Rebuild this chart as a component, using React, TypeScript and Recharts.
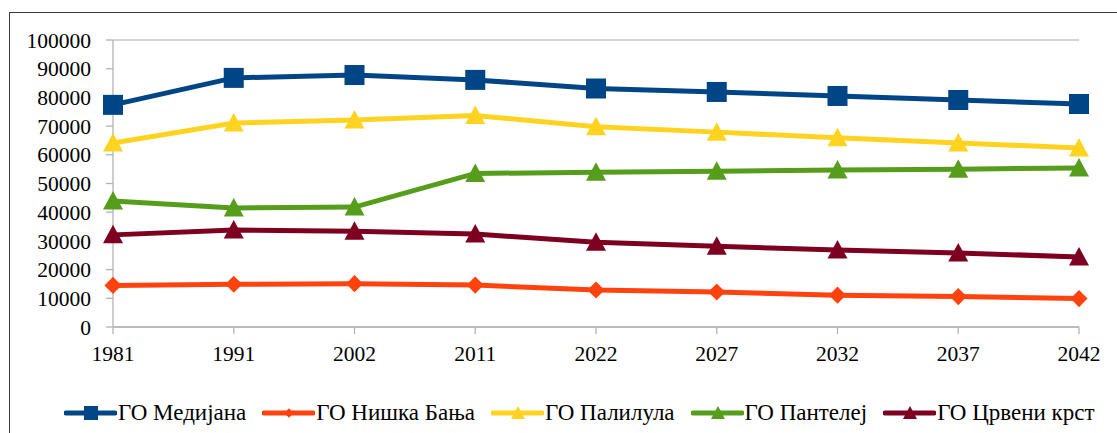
import React from "react";
import { LineChart, Line, XAxis, YAxis, CartesianGrid, Legend } from "recharts";

const years = ["1981", "1991", "2002", "2011", "2022", "2027", "2032", "2037", "2042"];
const medijana = [77400, 86800, 87800, 86100, 83100, 81900, 80500, 79100, 77700];
const niskaBanja = [14500, 14900, 15100, 14600, 12900, 12200, 11100, 10600, 9900];
const palilula = [64100, 71100, 72100, 73700, 69800, 67900, 65900, 64100, 62400];
const pantelej = [43900, 41500, 41800, 53500, 53900, 54300, 54700, 55000, 55400];
const crveniKrst = [32100, 33800, 33400, 32400, 29500, 28100, 26800, 25800, 24400];
const yTicks = [0, 10000, 20000, 30000, 40000, 50000, 60000, 70000, 80000, 90000, 100000];

const series = [
  { key: "med", name: "ГО Медијана", color: "#004586", shape: "square", values: medijana },
  { key: "nb", name: "ГО Нишка Бања", color: "#ff420e", shape: "diamond", values: niskaBanja },
  { key: "pal", name: "ГО Палилула", color: "#ffd320", shape: "triangle", values: palilula },
  { key: "pan", name: "ГО Пантелеј", color: "#579d1c", shape: "triangle", values: pantelej },
  { key: "ck", name: "ГО Црвени крст", color: "#7e0021", shape: "triangle", values: crveniKrst },
];

const data = years.map((y, i) => {
  const row: any = { year: y };
  series.forEach((s) => (row[s.key] = s.values[i]));
  return row;
});

const FONT = "Liberation Serif";
const GRID = "#c6c6c6";
const AXIS = "#b3b3b3";

function marker(shape: string, color: string, cx: number, cy: number, r: number, key?: any) {
  if (shape === "square") {
    return <rect key={key} x={cx - r} y={cy - r} width={r * 2} height={r * 2} fill={color} />;
  }
  if (shape === "diamond") {
    const d = r * 0.95;
    return (
      <polygon key={key} points={`${cx},${cy - d} ${cx + d},${cy} ${cx},${cy + d} ${cx - d},${cy}`} fill={color} />
    );
  }
  return (
    <polygon key={key} points={`${cx},${cy - r} ${cx + r},${cy + r * 0.85} ${cx - r},${cy + r * 0.85}`} fill={color} />
  );
}

const makeDot = (shape: string, color: string) => (props: any) => {
  const { cx, cy, index } = props;
  if (cx == null || cy == null) return <g key={index} />;
  const r = shape === "square" ? 10 : shape === "diamond" ? 9 : 10;
  return marker(shape, color, cx, cy, r, index);
};

const renderLegend = () => (
  <div style={{ display: "flex", alignItems: "center", height: 40, paddingLeft: 64 }}>
    {series.map((s) => (
      <div key={s.key} style={{ display: "flex", alignItems: "center", marginRight: 16 }}>
        <svg width={53} height={20} style={{ marginRight: 1 }}>
          <line x1={2} y1={10} x2={51} y2={10} stroke={s.color} strokeWidth={5} strokeLinecap="round" />
          {marker(s.shape, s.color, 27, 10, s.shape === "diamond" ? 5 : 7)}
        </svg>
        <span style={{ whiteSpace: "nowrap", fontFamily: FONT, fontSize: 23, color: "#000" }}>{s.name}</span>
      </div>
    ))}
  </div>
);

const tickStyle = { fill: "#000", fontSize: 21.5, fontFamily: FONT };

export default function App() {
  return (
    <div>
      <div
        style={{
          position: "absolute",
          left: 9,
          top: 12,
          width: 1108,
          height: 421,
          boxSizing: "border-box",
          borderLeft: "1.5px solid #3a3a3a",
          borderTop: "1.5px solid #3a3a3a",
        }}
      />
      <div style={{ position: "absolute", left: 0, top: 0 }}>
        <LineChart width={1117} height={433} data={data} margin={{ top: 40, right: 38, left: 0, bottom: 0 }}>
          <CartesianGrid vertical={false} stroke={GRID} strokeWidth={1.6} />
          <XAxis
            dataKey="year"
            height={66}
            tickSize={7}
            tickMargin={12}
            axisLine={{ stroke: AXIS, strokeWidth: 1.3 }}
            tickLine={{ stroke: AXIS, strokeWidth: 1.3 }}
            tick={tickStyle}
          />
          <YAxis
            yAxisId="left"
            width={113}
            domain={[0, 100000]}
            ticks={yTicks}
            interval={0}
            tickSize={7}
            tickMargin={15}
            axisLine={{ stroke: AXIS, strokeWidth: 1.3 }}
            tickLine={{ stroke: AXIS, strokeWidth: 1.3 }}
            tick={tickStyle}
          />
          <YAxis
            yAxisId="right"
            orientation="right"
            width={0}
            domain={[0, 100000]}
            tick={false}
            tickLine={false}
            axisLine={{ stroke: AXIS, strokeWidth: 1.3 }}
          />
          <Legend verticalAlign="bottom" content={renderLegend} />
          {series.map((s) => (
            <Line
              key={s.key}
              yAxisId="left"
              type="linear"
              dataKey={s.key}
              name={s.name}
              stroke={s.color}
              strokeWidth={5}
              dot={makeDot(s.shape, s.color)}
              activeDot={false}
              isAnimationActive={false}
            />
          ))}
        </LineChart>
      </div>
    </div>
  );
}
